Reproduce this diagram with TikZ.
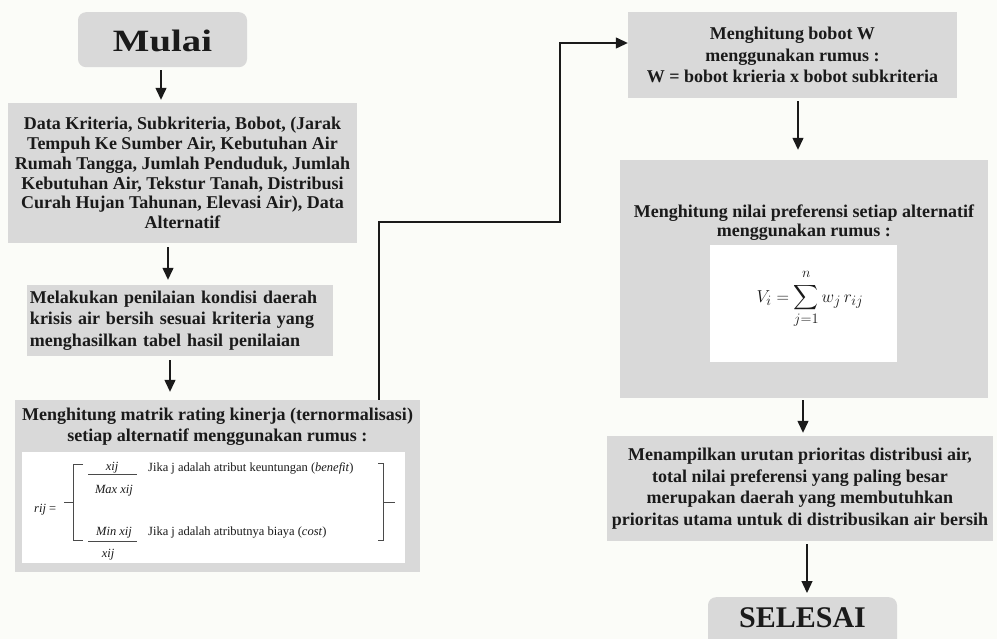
\documentclass[tikz,border=0pt]{standalone}
\usepackage{amsmath}
\usepackage{fontspec}
\usepackage{graphicx}
\setmainfont{Liberation Serif}
\usetikzlibrary{arrows.meta,calc}
\definecolor{boxgray}{HTML}{D9D9D9}
\definecolor{paper}{HTML}{FBFCF8}
\definecolor{ink}{HTML}{1A1A1A}
\definecolor{bracketink}{HTML}{4A4A4A}
\begin{document}
\begin{tikzpicture}[x=1pt,y=-1pt,
  box/.style={fill=boxgray, draw=none, inner sep=0pt, text=ink, align=center,
              font=\bfseries\fontsize{18}{21.5}\selectfont},
  panel/.style={fill=white, draw=none, inner sep=0pt},
  ftext/.style={inner sep=0pt, text=ink, font=\fontsize{12.5}{14}\selectfont},
  arr/.style={line width=1.3pt, draw=ink, -{Triangle[length=12pt,width=11pt]}},
  bracket/.style={line width=0.9pt, draw=bracketink},
]
% page
\fill[paper] (0,0) rectangle (997,639);
\useasboundingbox (0,0) rectangle (997,639);

% ---------- left column ----------
\node[box, rounded corners=8pt, minimum width=169pt, text height=39pt, text depth=16pt,
      anchor=north] (mulai) at (162.5,12)
  {\fontsize{31}{31}\selectfont\scalebox{1.25}[1]{Mulai}};

\node[box, minimum width=349pt, minimum height=140pt,
      font=\bfseries\fontsize{18}{19.8}\selectfont] (data) at (182.5,173)
  {Data Kriteria, Subkriteria, Bobot, (Jarak\\
   Tempuh Ke Sumber Air, Kebutuhan Air\\
   Rumah Tangga, Jumlah Penduduk, Jumlah\\
   Kebutuhan Air, Tekstur Tanah, Distribusi\\
   Curah Hujan Tahunan, Elevasi Air), Data\\
   Alternatif};

\node[box, align=left, text width=300pt, inner xsep=3pt, minimum height=71pt] (nilai)
  at (180,320.5)
  {Melakukan penilaian kondisi daerah\\
   krisis air bersih sesuai kriteria yang\\
   menghasilkan tabel hasil penilaian};

\node[box, minimum width=405pt, minimum height=172pt] (matrik) at (217.5,486) {};
\node[box, fill=none, font=\bfseries\fontsize{18}{21}\selectfont] (matrikttl) at (217.5,427)
  {Menghitung matrik rating kinerja (ternormalisasi)\\
   setiap alternatif menggunakan rumus :};
\node[panel, minimum width=383pt, minimum height=111pt] (panelr) at (213.5,507.5) {};

% normalisation formula
\node[ftext, anchor=base west] (rij) at (34,512) {\textit{rij} =};
\draw[bracket] (83,464) -- (73,464) -- (73,540) -- (83,540);
\draw[bracket] (73,502) -- (64,502);
\node[ftext, anchor=base] (num1) at (112,470) {\textit{xij}};
\draw[line width=0.8pt, draw=bracketink] (88,474) -- (137,474);
\node[ftext, anchor=base] (den1) at (114,493) {\textit{Max xij}};
\node[ftext, anchor=base] (num2) at (114,535) {\textit{Min xij}};
\draw[line width=0.8pt, draw=bracketink] (88,541) -- (137,541);
\node[ftext, anchor=base] (den2) at (108,557) {\textit{xij}};
\node[ftext, anchor=base west] (benefit) at (148,471)
  {Jika j adalah atribut keuntungan (\textit{benefit})};
\node[ftext, anchor=base west] (cost) at (148,535)
  {Jika j adalah atributnya biaya (\textit{cost})};
\draw[bracket] (378,463) -- (383,463) -- (383,540) -- (378,540);
\draw[bracket] (383,502) -- (395,502);

% ---------- right column ----------
\node[box, minimum width=329pt, minimum height=86pt] (bobot) at (792.5,55)
  {Menghitung bobot W\\
   menggunakan rumus :\\
   W = bobot krieria x bobot subkriteria};

\node[box, minimum width=368pt, minimum height=238pt] (pref) at (804,279) {};
\node[box, fill=none, font=\bfseries\fontsize{18}{19}\selectfont] (prefttl) at (804,223)
  {Menghitung nilai preferensi setiap alternatif\\
   menggunakan rumus :};
\node[panel, minimum width=187pt, minimum height=117pt] (panelv) at (803.5,303.5) {};
\node[inner sep=0pt, text=ink, font=\fontsize{19}{22}\selectfont] (vi) at (810,299)
  {$\displaystyle V_i = \sum_{j=1}^{\raisebox{3pt}{$\scriptstyle n$}} w_j\, r_{ij}$};

\node[box, minimum width=386pt, minimum height=105pt] (urutan) at (800,488.5)
  {Menampilkan urutan prioritas distribusi air,\\
   total nilai preferensi yang paling besar\\
   merupakan daerah yang membutuhkan\\
   prioritas utama untuk di distribusikan air bersih};

\node[box, rounded corners=8pt, minimum width=189pt, text height=30pt, text depth=33pt,
      anchor=north] (selesai) at (802.5,597)
  {\fontsize{30}{30}\selectfont SELESAI};

% ---------- connectors ----------
\coordinate (xa) at (161,0);
\coordinate (xb) at (168,0);
\coordinate (xc) at (170,0);
\coordinate (xd) at (798,0);
\coordinate (xe) at (803,0);
\coordinate (xf) at (807,0);
\coordinate (k1) at (379,222);
\coordinate (k2) at (560,43);

\draw[arr, shorten <=3pt, shorten >=3pt] (mulai.south -| xa) -- (data.north -| xa);
\draw[arr, shorten <=4pt, shorten >=5pt] (data.south -| xb) -- (nilai.north -| xb);
\draw[arr, shorten <=4pt, shorten >=8pt] (nilai.south -| xc) -- (matrik.north -| xc);
\draw[arr] (matrik.north -| k1) -- (k1) -- (k1 -| k2) -- (k2) -- (bobot.west |- k2);
\draw[arr, shorten <=3pt, shorten >=10pt] (bobot.south -| xd) -- (pref.north -| xd);
\draw[arr, shorten <=2pt, shorten >=3pt] (pref.south -| xe) -- (urutan.north -| xe);
\draw[arr, shorten <=3pt, shorten >=4pt] (urutan.south -| xf) -- (selesai.north -| xf);
\end{tikzpicture}
\end{document}
